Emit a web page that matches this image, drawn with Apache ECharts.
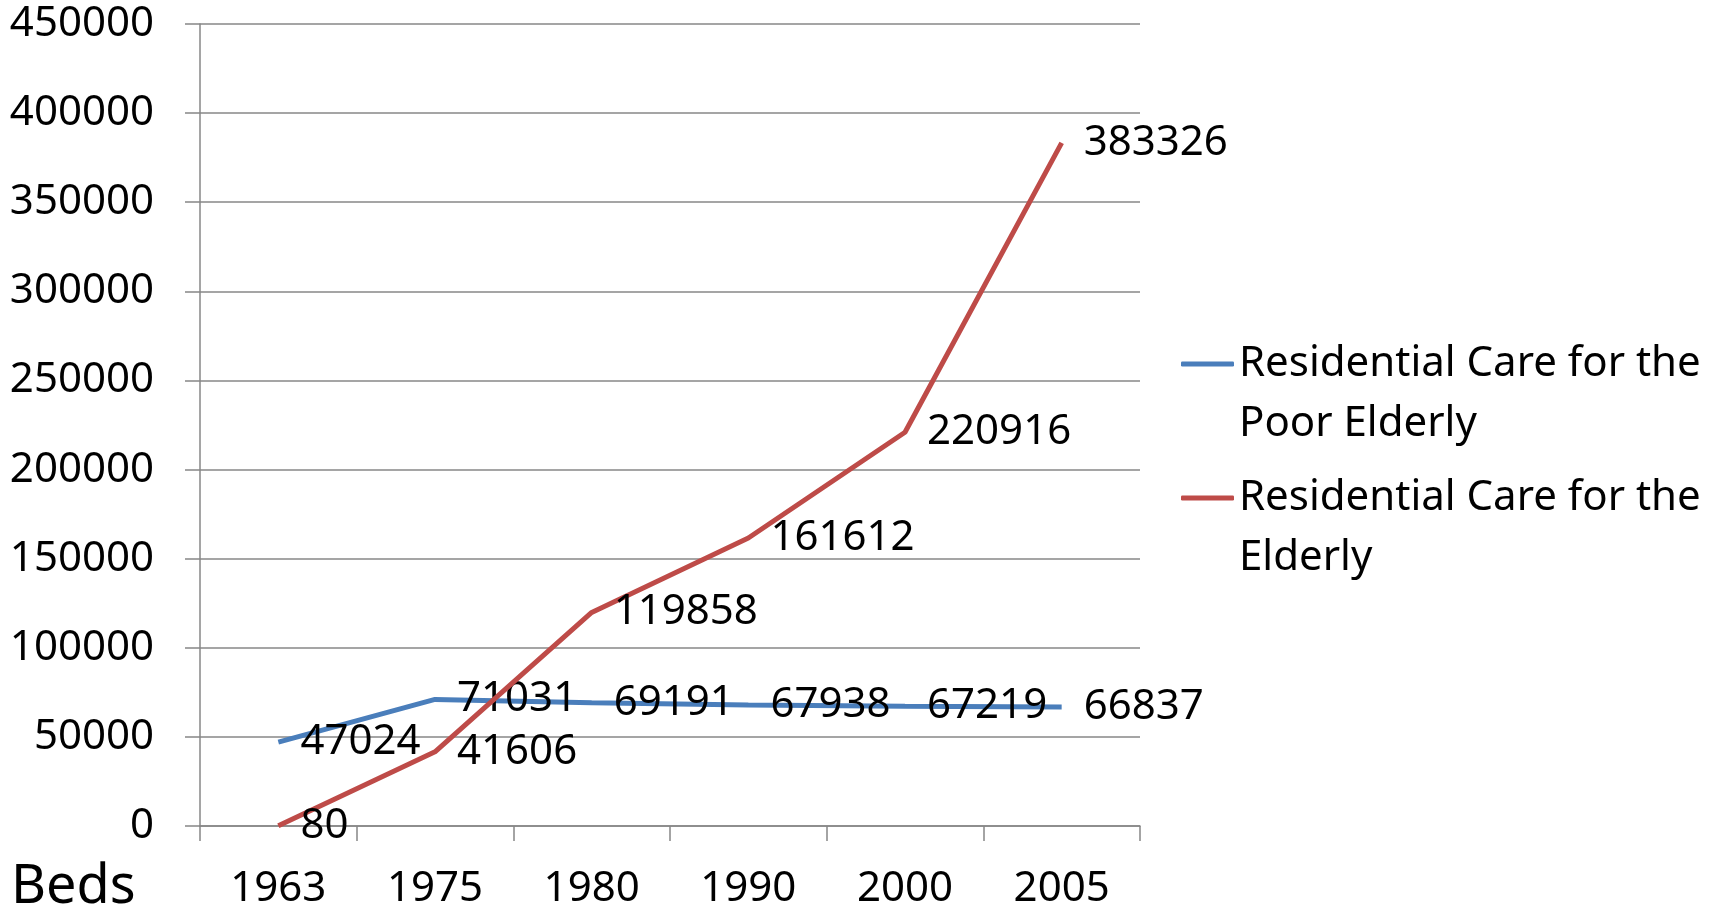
<!DOCTYPE html>
<html><head><meta charset="utf-8">
<script src="https://cdn.jsdelivr.net/npm/echarts@6/dist/echarts.min.js"></script>
<style>html,body{margin:0;padding:0;background:#fff}#c{width:1715px;height:910px}</style>
</head><body><div id="c"></div>
<script>
const categories = ['1963', '1975', '1980', '1990', '2000', '2005'];
const poorElderly = [47024, 71031, 69191, 67938, 67219, 66837];
const elderly = [80, 41606, 119858, 161612, 220916, 383326];
const seriesNames = ['Residential Care for the Poor Elderly', 'Residential Care for the Elderly'];
const legendLines = {
  'Residential Care for the Poor Elderly': ['Residential Care for the', 'Poor Elderly'],
  'Residential Care for the Elderly': ['Residential Care for the', 'Elderly']
};
const yTicks = { min: 0, max: 450000, interval: 50000 };
const axisTitle = 'Beds';

const FONT = 'Noto Sans';
const chart = echarts.init(document.getElementById('c'));
const lbl = {
  show: true, position: 'right', distance: 22, color: '#000',
  fontFamily: FONT, fontSize: 42
};
chart.setOption({
  animation: false,
  textStyle: { fontFamily: FONT },
  grid: { left: 200, right: 575, top: 24, bottom: 81, containLabel: false },
  xAxis: {
    type: 'category', data: categories, boundaryGap: true,
    axisLine: { lineStyle: { color: '#878787', width: 1.5 } },
    axisTick: { show: true, length: 15, lineStyle: { color: '#878787', width: 1.5 } },
    axisLabel: { color: '#000', fontFamily: FONT, fontSize: 42, margin: 42 },
    splitLine: { show: false }
  },
  yAxis: {
    type: 'value', min: yTicks.min, max: yTicks.max, interval: yTicks.interval,
    axisLine: { show: true, lineStyle: { color: '#878787', width: 1.5 } },
    axisTick: { show: true, length: 15, lineStyle: { color: '#878787', width: 1.5 } },
    axisLabel: { color: '#000', fontFamily: FONT, fontSize: 42, margin: 46, formatter: v => String(v) },
    splitLine: { show: true, lineStyle: { color: '#878787', width: 1.5 } }
  },
  legend: {
    orient: 'vertical', left: 1176, top: 278,
    icon: 'roundRect', itemWidth: 53, itemHeight: 5, itemGap: -28,
    formatter: n => '{s| }\n{a|' + legendLines[n][0] + '}\n{a|' + legendLines[n][1] + '}',
    textStyle: {
      color: '#000', fontFamily: FONT, fontSize: 42,
      rich: {
        s: { fontSize: 42, lineHeight: 60, fontFamily: FONT },
        a: { fontSize: 42, lineHeight: 60, fontFamily: FONT, color: '#000' }
      }
    },
    data: seriesNames
  },
  graphic: [{
    type: 'text', left: 11, top: 861,
    style: { text: axisTitle, fontFamily: FONT, fontSize: 54, fill: '#000' }
  }],
  series: [
    {
      name: seriesNames[0], type: 'line', data: poorElderly,
      color: '#4A7EBB', lineStyle: { width: 5, color: '#4A7EBB' },
      symbol: 'circle', symbolSize: 0.1, showSymbol: true,
      label: lbl, z: 2
    },
    {
      name: seriesNames[1], type: 'line', data: elderly,
      color: '#BE4B48', lineStyle: { width: 5, color: '#BE4B48' },
      symbol: 'circle', symbolSize: 0.1, showSymbol: true,
      label: lbl, z: 3
    }
  ]
});
</script></body></html>
